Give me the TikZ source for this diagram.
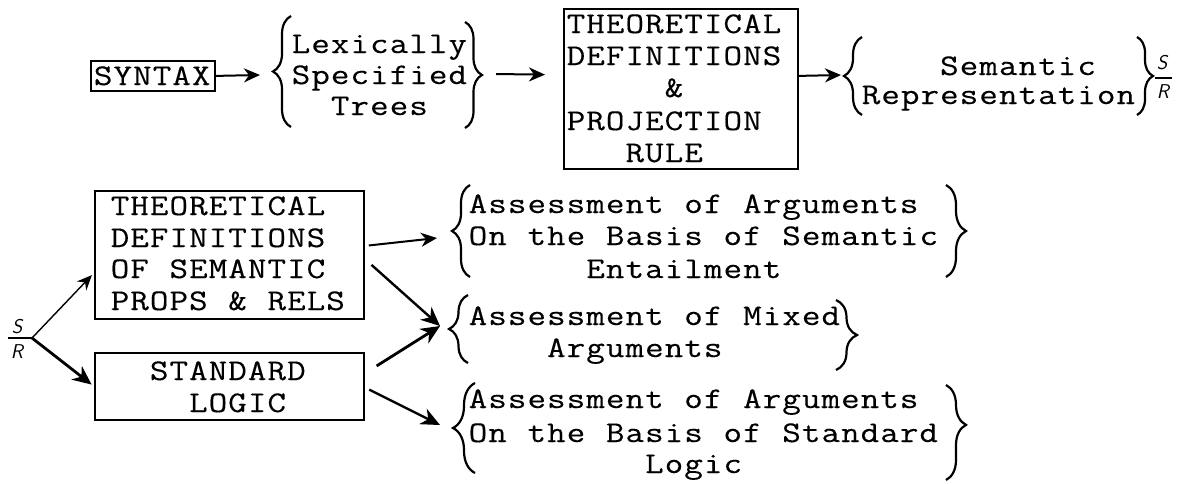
\documentclass[tikz,border=0pt]{standalone}
\usepackage{fontspec}
\usetikzlibrary{arrows.meta,decorations.pathreplacing}
\newfontfamily\typewriter{Latin Modern Mono}[FakeStretch=1.2, FakeBold=0.3]

% Typewriter setting: every character sits in a cell of fixed pitch;
% the optional argument indents the line by that many blank cells.
\ExplSyntaxOn
\dim_new:N \l_tw_pitch_dim
\dim_set:Nn \l_tw_pitch_dim {19.6pt}
\NewDocumentCommand \typed { O{0} m }
  {
    \hspace*{\dim_eval:n {#1\l_tw_pitch_dim}}
    \str_map_inline:nn {#2} { \makebox[\l_tw_pitch_dim]{##1} }
  }
\ExplSyntaxOff

\tikzset{
  txt/.style={inner sep=0pt, anchor=base west,
    font=\typewriter\fontsize{30}{31}\selectfont},
  hand/.style={inner sep=0pt, font=\sffamily\itshape\fontsize{20}{20}\selectfont},
  boxed/.style={draw, line width=1.8pt, inner sep=0pt, anchor=north west},
  brc/.style={decorate, line width=2.2pt,
    decoration={brace, amplitude=#1}},
  brc/.default=18pt,
  arr/.style={line width=2pt, -{Stealth[length=16pt, width=14pt, inset=5pt]}},
  thinarr/.style={line width=1.4pt, -{Stealth[length=15pt, width=13pt, inset=5pt]}},
  boldarr/.style={line width=2.8pt, -{Stealth[length=19pt, width=17pt, inset=6pt]}},
}

\begin{document}
\begin{tikzpicture}[x=1pt, y=-1pt]
\useasboundingbox (0,0) rectangle (1190,483);

% ---------------- top row ----------------
\node[boxed, minimum width=124pt, minimum height=30pt] (syntax) at (90,60) {};
\node[txt] (syntaxT) at (93.2,85) {\typed{SYNTAX}};

\node[txt] (lex1) at (291,53)  {\typed{Lexically}};
\node[txt] (lex2) at (291,84)  {\typed{Specified}};
\node[txt] (lex3) at (291,115) {\typed[2]{Trees}};
\draw[brc=18pt] (291,127) -- (291,16);
\draw[brc=17pt] (465,22) -- (465,128);

\node[boxed, minimum width=234pt, minimum height=160pt] (proj) at (563,8) {};
\node[txt] (proj1) at (566,33)  {\typed{THEORETICAL}};
\node[txt] (proj2) at (566,65)  {\typed{DEFINITIONS}};
\node[txt] (proj3) at (566,97)  {\typed[5]{&}};
\node[txt] (proj4) at (566,130) {\typed{PROJECTION}};
\node[txt] (proj5) at (566,162) {\typed[3]{RULE}};

\node[txt] (sem1) at (861,75)  {\typed[4]{Semantic}};
\node[txt] (sem2) at (861,104) {\typed{Representation}};
\draw[brc=18pt] (862,115) -- (862,37);
\draw[brc=16pt] (1137,37) -- (1137,115);

\node[hand] (trS) at (1162,63) {S};
\node[hand] (trR) at (1163,92) {R};
\draw[line width=1.6pt] (1155,78) -- (1172,78);

\coordinate (lexIn)  at (260,75);
\coordinate (lexOut) at (496,74);
\coordinate (semIn)  at (841,75);
\draw[arr] (syntax.east) -- (lexIn);
\draw[arr, shorten >=18pt] (lexOut) -- ([yshift=14pt]proj.west);
\draw[arr] ([yshift=13pt]proj.east) -- (semIn);

% ---------------- lower part ----------------
\node[boxed, minimum width=269pt, minimum height=128pt] (semdef) at (94,190) {};
\node[txt] (sd1) at (110,215) {\typed{THEORETICAL}};
\node[txt] (sd2) at (110,247) {\typed{DEFINITIONS}};
\node[txt] (sd3) at (110,278) {\typed{OF SEMANTIC}};
\node[txt] (sd4) at (110,310) {\typed{PROPS & RELS}};

\node[boxed, minimum width=269pt, minimum height=67pt] (stdlog) at (94,352) {};
\node[txt] (sl1) at (110,380) {\typed[2]{STANDARD}};
\node[txt] (sl2) at (110,412) {\typed[4]{LOGIC}};

\node[hand] (lfS) at (17,327) {S};
\node[hand] (lfR) at (17,352) {R};
\draw[line width=1.6pt] (8,338) -- (32,338);
\coordinate (sr) at (32,338);
\draw[thinarr, shorten >=3pt] (sr) -- ([yshift=-18pt]semdef.west);
\draw[boldarr, shorten >=3pt] (sr) -- (stdlog.west);

\node[txt] (g1a) at (468,213) {\typed{Assessment of Arguments}};
\node[txt] (g1b) at (468,245) {\typed{On the Basis of Semantic}};
\node[txt] (g1c) at (468,278) {\typed[6]{Entailment}};
\draw[brc=18pt] (470,277) -- (470,185);
\draw[brc=20pt] (946,185) -- (946,277);

\node[txt] (g2a) at (468,325) {\typed{Assessment of Mixed}};
\node[txt] (g2b) at (468,357) {\typed[4]{Arguments}};
\draw[brc=19pt] (468,363) -- (468,295);
\draw[brc=21pt] (836,300) -- (836,370);

\node[txt] (g3a) at (468,408) {\typed{Assessment of Arguments}};
\node[txt] (g3b) at (468,442) {\typed{On the Basis of Standard}};
\node[txt] (g3c) at (468,473) {\typed[9]{Logic}};
\draw[brc=22pt] (475,473) -- (475,383);
\draw[decorate, line width=2.2pt, decoration={brace, amplitude=20pt, aspect=0.42}]
  (946,385) -- (946,480);

\coordinate (g1in) at (437,238);
\coordinate (g2in) at (440,326);
\coordinate (g3in) at (440,425);
\draw[arr, shorten <=4pt] ([yshift=9pt]semdef.east) -- (g1in);
\draw[boldarr, line width=2.4pt, shorten <=9pt] ([yshift=-4pt]semdef.east) -- (g2in);
\draw[boldarr, shorten <=14pt] ([yshift=13pt]stdlog.east) -- (g2in);
\draw[boldarr, line width=2.4pt, shorten <=5pt] ([yshift=-1pt]stdlog.east) -- (g3in);
\end{tikzpicture}
\end{document}
